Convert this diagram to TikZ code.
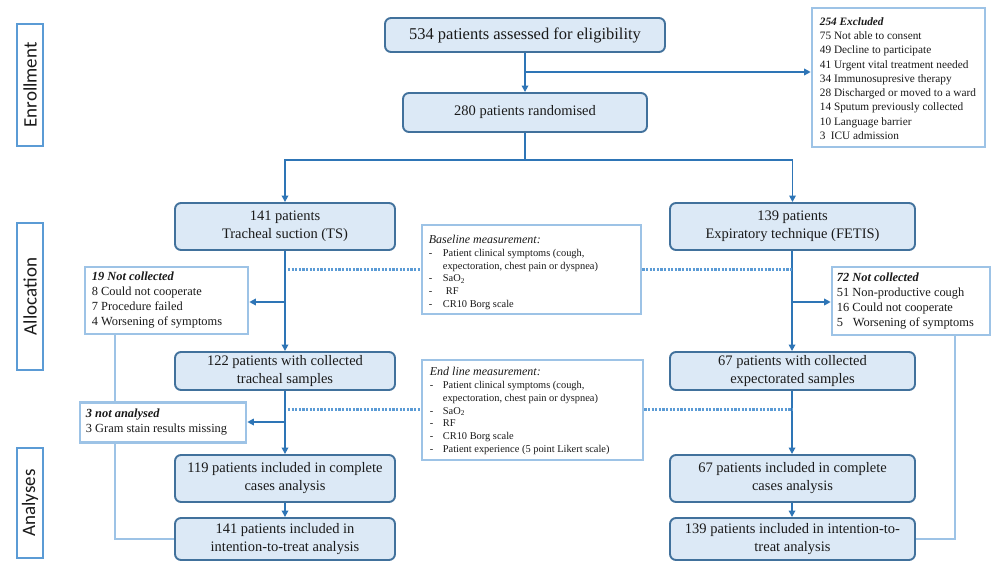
\documentclass[tikz,border=0pt]{standalone}
\usepackage{fontspec}
\setmainfont{Liberation Serif}
\newfontfamily\labelfont{Carlito}
\usetikzlibrary{arrows.meta}

\definecolor{boxfill}{HTML}{DCE9F6}
\definecolor{boxedge}{HTML}{41719C}
\definecolor{flowcol}{HTML}{2E75B6}
\definecolor{sideedge}{HTML}{9DC3E6}
\definecolor{phaseedge}{HTML}{5B9BD5}
\definecolor{textcol}{HTML}{1A1A1A}

\begin{document}
\begin{tikzpicture}[x=1pt,y=-1pt,
  mainbox/.style={draw=boxedge, fill=boxfill, rounded corners=6pt, line width=1.9pt,
    align=center, inner sep=0pt, text=textcol, font=\fontsize{14.5}{18}\selectfont},
  sidebox/.style={draw=sideedge, fill=white, line width=2.6pt, inner sep=0pt},
  sidetext/.style={anchor=west, align=left, inner sep=0pt, text=textcol},
  phase/.style={draw=phaseedge, fill=white, line width=2.4pt, rotate=90, inner sep=0pt,
    text=textcol, font=\labelfont\fontsize{19}{20}\selectfont},
  flow/.style={draw=flowcol, line width=1.9pt},
  arrowflow/.style={flow, -{Triangle[length=6.5pt,width=6.5pt]}},
  dots/.style={draw=phaseedge, line width=3pt, dash pattern=on 2.2pt off 1.4pt},
  link/.style={draw=sideedge, line width=2.4pt}
]
\useasboundingbox (0,0) rectangle (992,562);

% phase labels
\node[phase, minimum width=122, minimum height=26] (penrol) at (30,85) {Enrollment};
\node[phase, minimum width=147, minimum height=26] (palloc) at (30,296.5) {Allocation};
\node[phase, minimum width=110, minimum height=26] (panaly) at (30,503) {Analyses};

% main flow boxes
\node[mainbox, minimum width=280, minimum height=34, font=\fontsize{16.5}{18}\selectfont] (elig) at (525,35) {534 patients assessed for eligibility};
\node[mainbox, minimum width=244, minimum height=39] (rand) at (525,112.5) {280 patients randomised};
\node[mainbox, minimum width=220, minimum height=47] (ts) at (285,226.5) {141 patients\\Tracheal suction (TS)};
\node[mainbox, minimum width=245, minimum height=47] (fetis) at (792.5,226.5) {139 patients\\Expiratory technique (FETIS)};
\node[mainbox, minimum width=220, minimum height=38] (tscol) at (285,371) {122 patients with collected\\tracheal samples};
\node[mainbox, minimum width=245, minimum height=38] (fecol) at (792.5,371) {67 patients with collected\\expectorated samples};
\node[mainbox, minimum width=220, minimum height=47] (tscc) at (285,478.5) {119 patients included in complete\\cases analysis};
\node[mainbox, minimum width=245, minimum height=47] (fecc) at (792.5,478.5) {67 patients included in complete\\cases analysis};
\node[mainbox, minimum width=220, minimum height=42] (tsitt) at (285,539) {141 patients included in\\intention-to-treat analysis};
\node[mainbox, minimum width=245, minimum height=42] (feitt) at (792.5,539) {139 patients included in intention-to-\\treat analysis};

% side boxes
\node[sidebox, minimum width=173, minimum height=139] (excl) at (898.5,77.5) {};
\node[sidetext, font=\fontsize{11.3}{14.3}\selectfont] (excltext) at ([xshift=9pt,yshift=-1pt]excl.west) {%
  \textbf{\textit{254 Excluded}}\\
  75 Not able to consent\\
  49 Decline to participate\\
  41 Urgent vital treatment needed\\
  34 Immunosupresive therapy\\
  28 Discharged or moved to a ward\\
  14 Sputum previously collected\\
  10 Language barrier\\
  \makebox[11pt][l]{3}ICU admission};

\node[sidebox, minimum width=163, minimum height=67] (nc1) at (166.5,300.5) {};
\node[sidetext, font=\fontsize{12.4}{15}\selectfont] (nc1text) at ([xshift=8pt]nc1.west) {%
  \textbf{\textit{19 Not collected}}\\
  8 Could not cooperate\\
  7 Procedure failed\\
  4 Worsening of symptoms};

\node[sidebox, minimum width=158, minimum height=68] (nc2) at (911,301) {};
\node[sidetext, font=\fontsize{12.4}{15}\selectfont] (nc2text) at ([xshift=6pt]nc2.west) {%
  \textbf{\textit{72 Not collected}}\\
  51 Non-productive cough\\
  16 Could not cooperate\\
  \makebox[16pt][l]{5}Worsening of symptoms};

\node[sidebox, minimum width=166, minimum height=40] (na) at (163,422.5) {};
\node[sidetext, font=\fontsize{12.4}{15}\selectfont] (natext) at ([xshift=7pt]na.west) {%
  \textbf{\textit{3 not analysed}}\\
  3 Gram stain results missing};

% measurement boxes
\node[sidebox, minimum width=219, minimum height=89] (base) at (531.5,269.5) {};
\node[sidetext, font=\fontsize{10.4}{12.7}\selectfont] (basetext) at ([xshift=8pt,yshift=-3pt]base.west) {%
  {\fontsize{12}{12.7}\selectfont\itshape Baseline measurement:}\\
  \makebox[14pt][l]{-}Patient clinical symptoms (cough,\\
  \makebox[14pt]{}expectoration, chest pain or dyspnea)\\
  \makebox[14pt][l]{-}SaO\textsubscript{2}\\
  \makebox[17pt][l]{-}RF\\
  \makebox[14pt][l]{-}CR10 Borg scale};

\node[sidebox, minimum width=221, minimum height=100] (endl) at (532.5,410) {};
\node[sidetext, font=\fontsize{10.4}{12.7}\selectfont] (endltext) at ([xshift=9pt,yshift=-1pt]endl.west) {%
  {\fontsize{12}{12.7}\selectfont\itshape End line measurement:}\\
  \makebox[13pt][l]{-}Patient clinical symptoms (cough,\\
  \makebox[13pt]{}expectoration, chest pain or dyspnea)\\
  \makebox[13pt][l]{-}SaO\textsubscript{2}\\
  \makebox[13pt][l]{-}RF\\
  \makebox[13pt][l]{-}CR10 Borg scale\\
  \makebox[13pt][l]{-}Patient experience (5 point Likert scale)};

% junction points
\coordinate (exclsplit) at (525,72);
\coordinate (armsplit) at (525,160);
\coordinate (tsdrop) at (285,302);
\coordinate (fedrop) at (792,302);
\coordinate (tsna) at (285,422);
\coordinate (basey) at (288,269);
\coordinate (endy) at (288,409);
\coordinate (lx) at (115,0);
\coordinate (rx) at (955,0);

% enrollment and randomisation
\draw[arrowflow] (elig) -- (rand);
\draw[arrowflow] (exclsplit) -- (exclsplit -| excl.west);
\draw[flow] (rand) -- (armsplit);
\draw[arrowflow] (armsplit) -| (ts.north);
\draw[arrowflow] (armsplit) -| (fetis.north);

% tracheal suction arm
\draw[arrowflow] (ts) -- (tscol);
\draw[arrowflow] (tsdrop) -- (tsdrop -| nc1.east);
\draw[arrowflow] (tscol) -- (tscc);
\draw[arrowflow] (tsna) -- (tsna -| na.east);
\draw[arrowflow] (tscc) -- (tsitt);

% expiratory technique arm
\draw[arrowflow] (fetis.south -| fedrop) -- (fecol.north -| fedrop);
\draw[arrowflow] (fedrop) -- (fedrop -| nc2.west);
\draw[arrowflow] (fecol.south -| fedrop) -- (fecc.north -| fedrop);
\draw[arrowflow] (fecc.south -| fedrop) -- (feitt.north -| fedrop);

% measurement links
\draw[dots] (basey) -- (basey -| base.west);
\draw[dots] (basey -| base.east) -- (basey -| fedrop);
\draw[dots] (endy) -- (endy -| endl.west);
\draw[dots] (endy -| endl.east) -- (endy -| fedrop);

% exclusions carried into intention-to-treat
\draw[link] (nc1.south -| lx) -- (na.north -| lx);
\draw[link] (na.south -| lx) |- (tsitt.west);
\draw[link] (nc2.south -| rx) |- (feitt.east);
\end{tikzpicture}
\end{document}
